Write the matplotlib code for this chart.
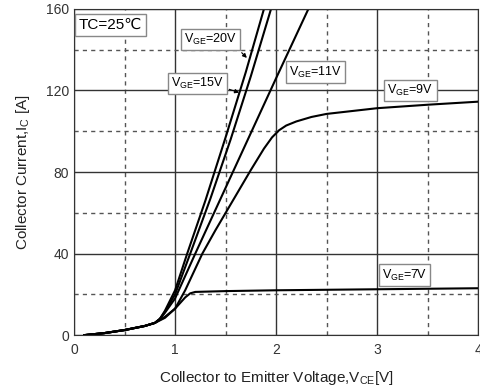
import numpy as np
import matplotlib
matplotlib.use("Agg")
import matplotlib.pyplot as plt

plt.rcParams['font.family'] = ['Liberation Sans', 'DejaVu Sans']

# output characteristics, Tc = 25C
vce_20 = [0.1, 0.3, 0.5, 0.7, 0.8, 0.85, 0.9, 1.0, 1.12, 1.3, 1.5, 1.7, 1.88]
ic_20 = [0, 1, 2.5, 4.5, 6, 8, 12, 22, 40, 66, 97, 129, 160]
vce_15 = [0.1, 0.3, 0.5, 0.7, 0.8, 0.85, 0.9, 1.0, 1.15, 1.35, 1.55, 1.75, 1.95]
ic_15 = [0, 1, 2.5, 4.5, 6, 8, 11.5, 20, 40, 67, 96, 127, 160]
vce_11 = [0.1, 0.3, 0.5, 0.7, 0.8, 0.85, 0.9, 1.0, 1.2, 1.6, 2.0, 2.32]
ic_11 = [0, 1, 2.5, 4.5, 6, 8, 11, 18, 40, 83, 126, 160]
vce_9 = [0.1, 0.3, 0.5, 0.7, 0.8, 0.9, 1.0, 1.1, 1.27, 1.4, 1.75, 1.88, 1.96, 2.03, 2.1, 2.2, 2.35, 2.5, 3.0, 3.5, 4.0]
ic_9 = [0, 1, 2.5, 4.5, 6, 8.5, 13, 22, 40, 51.5, 81, 91.5, 97, 100.5, 102.8, 104.8, 107, 108.5, 111.3, 113, 114.5]
vce_7 = [0.1, 0.3, 0.5, 0.7, 0.8, 0.9, 1.0, 1.1, 1.15, 1.2, 1.5, 2.0, 3.0, 4.0]
ic_7 = [0, 1, 2.5, 4.5, 6, 9, 13, 18.5, 20.5, 21.2, 21.6, 22, 22.5, 23]

labels = ['20V', '15V', '11V', '9V', '7V']
label_pos = [(1.35, 145), (1.22, 123.5), (2.39, 129), (3.33, 120), (3.27, 29.5)]

fig = plt.figure(figsize=(4.81, 3.87), dpi=100)
ax = fig.add_axes([0.154, 0.134, 0.84, 0.843])

for x, y in [(vce_20, ic_20), (vce_15, ic_15), (vce_11, ic_11), (vce_9, ic_9), (vce_7, ic_7)]:
    ax.plot(x, y, color='black', lw=1.5)

ax.set_xlim(0, 4)
ax.set_ylim(0, 160)
ax.set_xticks([0, 1, 2, 3, 4])
ax.set_yticks([0, 40, 80, 120, 160])
ax.set_xticks([0.5, 1.5, 2.5, 3.5], minor=True)
ax.set_yticks([20, 60, 100, 140], minor=True)
ax.grid(which='major', color='#333333', lw=1.0, ls='-')
ax.grid(which='minor', color='#555555', lw=1.0, ls=(0, (3, 3)))
ax.tick_params(which='both', length=0, labelsize=10, colors='#333333')
ax.tick_params(axis='x', pad=6)
for s in ax.spines.values():
    s.set_color('#333333')

ax.set_xlabel('Collector to Emitter Voltage,V$_{\\mathregular{CE}}$[V]', fontsize=11, color='#222222', labelpad=8)
ax.set_ylabel('Collector Current,I$_{\\mathregular{C}}$ [A]', fontsize=11, color='#222222', labelpad=10)

box = dict(boxstyle='square,pad=0.25', fc='white', ec='#888888', lw=1)
for lab, (x, y) in zip(labels, label_pos):
    ax.text(x, y, 'V$_{\\mathregular{GE}}$=' + lab, fontsize=9, ha='center', va='center', bbox=box, zorder=5)

ax.text(0.05, 152, 'TC=25\u2103', fontsize=11, ha='left', va='center',
        bbox=dict(boxstyle='square,pad=0.25', fc='white', ec='#888888', lw=1), zorder=5)

# pointers from labels to curves
ax.annotate('', xy=(1.73, 135), xytext=(1.64, 139.5),
            arrowprops=dict(arrowstyle='-|>', color='black', lw=0.8, mutation_scale=6))
ax.annotate('', xy=(1.66, 118.5), xytext=(1.51, 121),
            arrowprops=dict(arrowstyle='-|>', color='black', lw=0.8, mutation_scale=6))

fig.savefig('out.png', dpi=100)
